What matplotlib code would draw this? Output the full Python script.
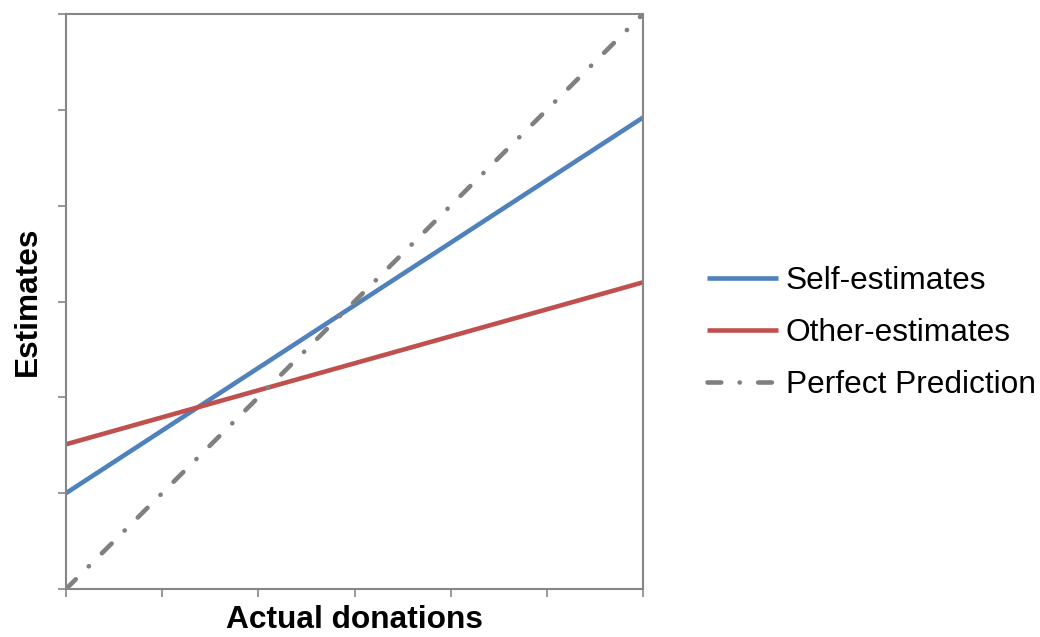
import matplotlib
matplotlib.use("Agg")
import matplotlib.pyplot as plt

x_vals = [0, 6]
self_est = [1.0, 4.92]
other_est = [1.51, 3.2]
perfect = [0, 6]
labels = ["Self-estimates", "Other-estimates", "Perfect Prediction"]

plt.rcParams['font.family'] = ['Liberation Sans', 'DejaVu Sans']
fs = 22.8
spine_c = '#868686'

fig = plt.figure(figsize=(10.4, 6.37), dpi=100)
ax = fig.add_axes([66/1040, 1-589/637, (643-66)/1040, (589-14)/637])

lw = 3.3
l1, = ax.plot(x_vals, self_est, color='#4F81BD', lw=lw, solid_capstyle='butt', label=labels[0])
l2, = ax.plot(x_vals, other_est, color='#C0504D', lw=lw, solid_capstyle='butt', label=labels[1])
l3, = ax.plot(x_vals, perfect, color='#808080', lw=lw, dash_capstyle='round',
              dashes=(3.0, 4.0, 0.05, 4.0), label=labels[2])

ax.set_xlim(0, 6)
ax.set_ylim(0, 6)
ax.set_xticks(range(7))
ax.set_yticks(range(7))
ax.set_xticklabels([])
ax.set_yticklabels([])
for s in ax.spines.values():
    s.set_color(spine_c)
    s.set_linewidth(1.5)
ax.tick_params(direction='out', length=6, width=1.2, color=spine_c)

ax.set_xlabel("Actual donations", fontsize=fs, fontweight='bold', labelpad=2)
ax.set_ylabel("Estimates", fontsize=fs, fontweight='bold', labelpad=7)

leg = fig.legend(handles=[l1, l2, l3], labels=labels, loc='center left',
                 bbox_to_anchor=(707/1040, 1-333/637), frameon=False,
                 fontsize=fs, handlelength=2.24, handletextpad=0.25,
                 labelspacing=0.7, borderpad=0, borderaxespad=0)

fig.savefig("out.png", dpi=100)
